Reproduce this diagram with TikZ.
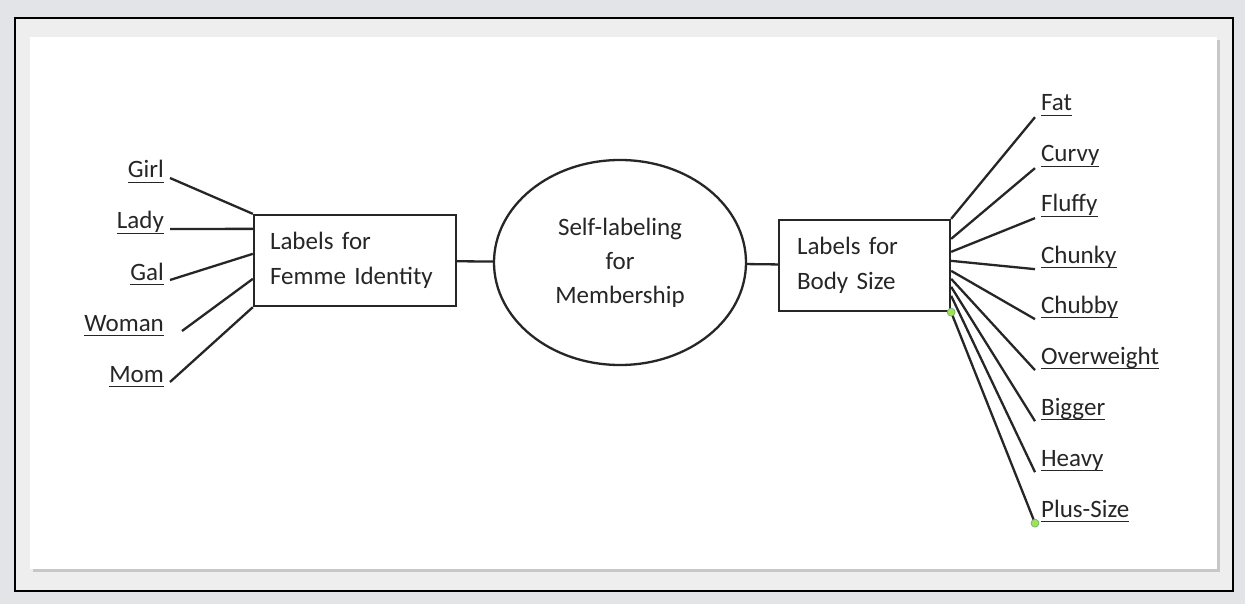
\documentclass[tikz,border=0pt]{standalone}
\usepackage{fontspec}
\setmainfont{Carlito}
\usetikzlibrary{shapes.geometric}
\definecolor{pagegray}{HTML}{E3E4E8}
\definecolor{framegray}{HTML}{EEEEEE}
\definecolor{inkgray}{HTML}{262626}
\definecolor{handlegreen}{HTML}{A4DE5C}
\newcommand{\lbl}[1]{\setbox0\hbox{#1}\rlap{\rule[-5pt]{\wd0}{1.4pt}}\box0}

\begin{document}
\begin{tikzpicture}[x=1pt, y=-1pt, line width=2.3pt, draw=inkgray, text=inkgray,
  box/.style={draw, rectangle, minimum height=91pt, align=left, inner ysep=0pt,
    font=\fontsize{25}{34.5}\selectfont},
  hub/.style={draw, ellipse, minimum width=252pt, minimum height=205pt, inner sep=0pt,
    align=center, font=\fontsize{25}{34}\selectfont},
  term/.style={inner xsep=5pt, inner ysep=0pt, font=\fontsize{25}{28}\selectfont}]
\useasboundingbox (0, 0) rectangle (1245, 604);
\fill[pagegray] (0, 0) rectangle (1245, 604);
\draw[line width=2.5pt, draw=black, fill=framegray] (15, 18) rectangle (1233, 591);
\fill[black!22] (33, 40) rectangle (1220, 572);
\fill[white] (30, 37) rectangle (1217, 569);

\node[box, text width=170pt, inner xsep=16pt] (femme) at (355, 260.5) {Labels for\\Femme Identity};
\node[hub] (core) at (620, 262.5) {Self-labeling\\for\\Membership};
\node[box, text width=135pt, inner xsep=18pt] (body) at (864.5, 265.5) {Labels for\\Body Size};

\node[term, anchor=base east] (girl) at (170, 178) {\lbl{Girl}};
\node[term, anchor=base east] (lady) at (170, 229) {\lbl{Lady}};
\node[term, anchor=base east] (gal) at (170, 280) {\lbl{Gal}};
\node[term, anchor=base east] (woman) at (170, 331) {\lbl{Woman}};
\node[term, anchor=base east] (mom) at (170, 382) {\lbl{Mom}};

\node[term, anchor=base west] (fat) at (1035, 111) {\lbl{Fat}};
\node[term, anchor=base west] (curvy) at (1035, 162) {\lbl{Curvy}};
\node[term, anchor=base west] (fluffy) at (1035, 212) {\lbl{Fluffy}};
\node[term, anchor=base west] (chunky) at (1035, 263) {\lbl{Chunky}};
\node[term, anchor=base west] (chubby) at (1035, 313) {\lbl{Chubby}};
\node[term, anchor=base west] (overweight) at (1035, 364) {\lbl{Overweight}};
\node[term, anchor=base west] (bigger) at (1035, 415) {\lbl{Bigger}};
\node[term, anchor=base west] (heavy) at (1035, 466) {\lbl{Heavy}};
\node[term, anchor=base west] (plussize) at (1035, 517) {\lbl{Plus-Size}};

\draw (femme) -- (core) -- (body);

\draw (girl.base east) -- (femme.north west);
\draw (lady.base east) -- ([yshift=-15pt]femme.north west);
\draw (gal.base east) -- ([yshift=-40pt]femme.north west);
\draw ([xshift=12pt]woman.base east) -- ([yshift=-65pt]femme.north west);
\draw (mom.base east) -- (femme.south west);

\draw (body.north east) -- (fat.south west);
\draw ([yshift=-20pt]body.north east) -- (curvy.south west);
\draw ([yshift=-33pt]body.north east) -- (fluffy.south west);
\draw ([yshift=-42pt]body.north east) -- (chunky.south west);
\draw ([yshift=-52pt]body.north east) -- (chubby.south west);
\draw ([yshift=-60pt]body.north east) -- (overweight.south west);
\draw ([yshift=-68pt]body.north east) -- (bigger.south west);
\draw ([yshift=-77pt]body.north east) -- (heavy.south west);
\draw (body.south east) -- (plussize.south west);

\filldraw[fill=handlegreen, draw=green!50!black!60, line width=0.6pt] (body.south east) circle (4pt);
\filldraw[fill=handlegreen, draw=green!50!black!60, line width=0.6pt] (plussize.south west) circle (4pt);
\end{tikzpicture}
\end{document}
